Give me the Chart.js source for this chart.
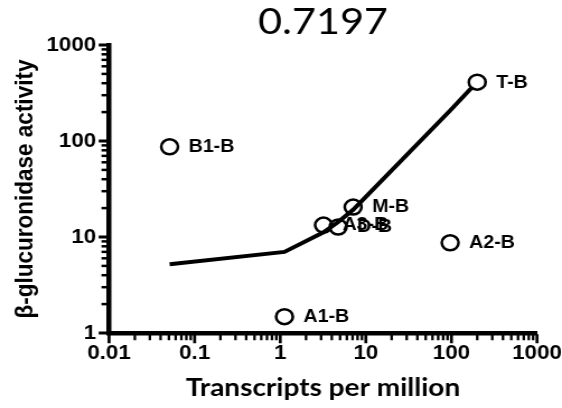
<!DOCTYPE html>
<html>
<head>
<meta charset="utf-8">
<script src="https://cdn.jsdelivr.net/npm/chart.js@4"></script>
<style>
  html, body { margin: 0; padding: 0; background: #fff; }
  canvas { display: block; }
</style>
</head>
<body>
<canvas id="c" width="502" height="408" style="width:562px;height:408px"></canvas>
<script>
// Samples: expression (transcripts per million) vs. beta-glucuronidase activity
const sampleNames = ['T-B', 'B1-B', 'A1-B', 'A2-B', 'M-B', 'A3-B', 'D-B'];
const transcriptsPerMillion = [200, 0.051, 1.12, 96.6, 7.1, 3.2, 4.75];
const glucuronidaseActivity = [410, 87, 1.48, 8.7, 20.5, 13.3, 12.7];

// Fitted trend line
const fitTranscripts = [0.051, 1.12, 3.2, 4.75, 7.1, 96.6, 170];
const fitActivity = [5.2, 7.0, 11.2, 14.3, 19.2, 208, 355];

// Axis decades and their labels
const xMajorTicks = [0.01, 0.1, 1, 10, 100, 1000];
const xTickLabels = ['0.01', '0.1', '1', '10', '100', '1000'];
const yMajorTicks = [1, 10, 100, 1000];
const yTickLabels = ['1', '10', '100', '1000'];

const titleText = '0.7197';
const xTitle = 'Transcripts per million';
const yTitle = 'β-glucuronidase activity';

const AXIS_WIDTH = 4.5;

// major decade ticks plus the 2..9 minor ticks inside each decade
function decadeTicks(majors) {
  const out = [];
  majors.forEach((d, i) => {
    out.push({ value: d, major: true });
    if (i < majors.length - 1) {
      for (let m = 2; m <= 9; m++) out.push({ value: d * m, major: false });
    }
  });
  return out;
}

const tickFont = { family: 'Liberation Sans', size: 20, weight: 'bold' };

// Tick marks drawn outside the axes: long at decades, short in between
const axisTickMarks = {
  id: 'axisTickMarks',
  afterDraw(chart) {
    const { ctx, scales: { x, y } } = chart;
    ctx.save();
    ctx.strokeStyle = '#000';
    ctx.lineCap = 'butt';
    const yEdge = y.right - AXIS_WIDTH / 2;
    y.ticks.forEach(t => {
      const p = y.getPixelForValue(t.value);
      const major = yMajorTicks.includes(t.value);
      ctx.lineWidth = major ? 3 : 2.5;
      ctx.beginPath();
      ctx.moveTo(yEdge + 1, p);
      ctx.lineTo(yEdge - (major ? 7 : 4.5), p);
      ctx.stroke();
    });
    const xEdge = x.top + AXIS_WIDTH / 2;
    x.ticks.forEach(t => {
      const p = x.getPixelForValue(t.value);
      const major = xMajorTicks.includes(t.value);
      ctx.lineWidth = major ? 2.7 : 2.3;
      ctx.beginPath();
      ctx.moveTo(p, xEdge - 1);
      ctx.lineTo(p, xEdge + (major ? 8 : 5));
      ctx.stroke();
    });
    ctx.restore();
  }
};

// Sample names written to the right of each circle
const sampleLabels = {
  id: 'sampleLabels',
  afterDatasetsDraw(chart) {
    const { ctx } = chart;
    const meta = chart.getDatasetMeta(1);
    ctx.save();
    ctx.fillStyle = '#000';
    ctx.font = 'bold 17.5px "Liberation Sans", Arial, sans-serif';
    ctx.textAlign = 'left';
    ctx.textBaseline = 'middle';
    meta.data.forEach((pt, i) => {
      ctx.fillText(sampleNames[i], pt.x + 17, pt.y + 0.5);
    });
    ctx.restore();
  }
};

new Chart(document.getElementById('c'), {
  type: 'scatter',
  data: {
    datasets: [
      {
        label: 'fit',
        data: fitTranscripts.map((v, i) => ({ x: v, y: fitActivity[i] })),
        showLine: true,
        borderColor: '#000',
        borderWidth: 4,
        pointRadius: 0,
        tension: 0,
        fill: false
      },
      {
        label: 'samples',
        data: transcriptsPerMillion.map((v, i) => ({ x: v, y: glucuronidaseActivity[i] })),
        pointStyle: 'circle',
        pointRadius: 7.5,
        pointBorderWidth: 2.5,
        borderColor: '#000',
        backgroundColor: 'rgba(255,255,255,0)'
      }
    ]
  },
  options: {
    responsive: false,
    devicePixelRatio: 1,
    animation: false,
    events: [],
    layout: { padding: { left: 0, right: 22.3, top: 0, bottom: 0 } },
    plugins: {
      legend: { display: false },
      tooltip: { enabled: false },
      title: {
        display: true,
        text: titleText,
        fullSize: false,
        color: '#000',
        font: { family: 'Lato', size: 37, weight: 'normal', lineHeight: 1.1 },
        padding: { top: 1.5, bottom: 2.8 }
      }
    },
    scales: {
      x: {
        type: 'logarithmic',
        position: 'bottom',
        min: 0.01,
        max: 1000,
        afterBuildTicks: s => { s.ticks = decadeTicks(xMajorTicks); },
        afterFit: s => {
          s.height = 75;
          s.paddingLeft = 0;
          s.paddingRight = 0;
        },
        grid: { display: false, drawTicks: false },
        border: { display: true, color: '#000', width: AXIS_WIDTH },
        ticks: {
          autoSkip: false,
          maxRotation: 0,
          padding: 8,
          color: '#000',
          font: tickFont,
          callback: v => {
            const k = xMajorTicks.indexOf(v);
            return k >= 0 ? xTickLabels[k] : '';
          }
        },
        title: {
          display: true,
          text: xTitle,
          color: '#000',
          font: { family: 'Lato', size: 25, weight: 'bold' },
          padding: { top: 0, bottom: 5.5 }
        }
      },
      y: {
        type: 'logarithmic',
        position: 'left',
        min: 1,
        max: 1000,
        afterBuildTicks: s => { s.ticks = decadeTicks(yMajorTicks); },
        afterFit: s => { s.width = 97.4; },
        grid: { display: false, drawTicks: false },
        border: { display: true, color: '#000', width: AXIS_WIDTH },
        ticks: {
          autoSkip: false,
          padding: 11.5,
          color: '#000',
          font: tickFont,
          callback: v => {
            const k = yMajorTicks.indexOf(v);
            return k >= 0 ? yTickLabels[k] : '';
          }
        },
        title: {
          display: true,
          text: yTitle,
          color: '#000',
          font: { family: 'Liberation Sans', size: 22.5, weight: 'bold' },
          padding: { top: 9.5, bottom: 0 }
        }
      }
    }
  },
  plugins: [axisTickMarks, sampleLabels]
});
</script>
</body>
</html>
